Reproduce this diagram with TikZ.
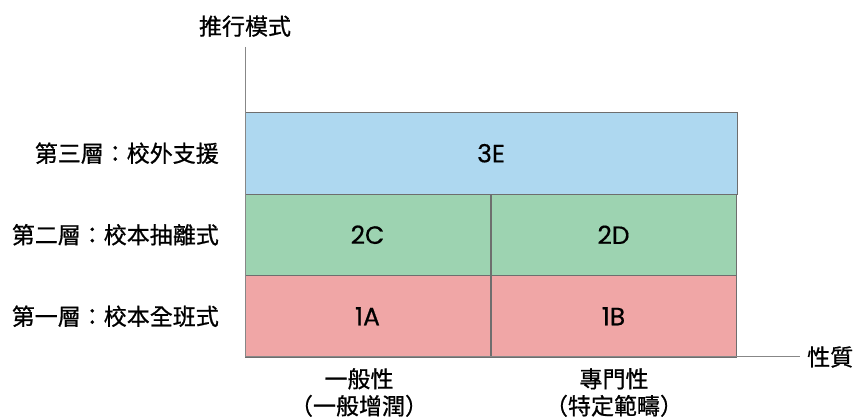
\documentclass[tikz,border=0pt]{standalone}
\usepackage{fontspec}
\setmainfont[FakeBold=0.4]{Poppins}
\newfontfamily\cjk[FakeBold=0.8]{Noto Sans CJK TC}
\usetikzlibrary{positioning}
\definecolor{tierblue}{RGB}{174,216,240}
\definecolor{tiergreen}{RGB}{157,211,177}
\definecolor{tierpink}{RGB}{240,166,166}
\definecolor{edgegray}{RGB}{110,110,110}
\definecolor{axisgray}{RGB}{135,135,135}
\tikzstyle{cell} = [draw=edgegray,line width=0.8pt,minimum height=81.5pt,inner sep=0pt,font=\fontsize{25}{29}\selectfont]
\tikzstyle{half} = [cell,minimum width=245pt]
\tikzstyle{full} = [cell,minimum width=492pt]
\tikzstyle{lbl} = [font=\cjk\fontsize{23}{27}\selectfont,inner sep=0pt]
\tikzstyle{axis} = [draw=axisgray,line width=1pt]

\begin{document}
\begin{tikzpicture}[x=1pt,y=1pt]
\useasboundingbox (0,0) rectangle (854,417);

% Draw tiers, labels and axes

    \def\lx{367.5}
    \def\rx{613.5}
    \node[half,fill=tierpink] at (\lx,100.75) (c1A) {1A};
    \node[half,fill=tierpink] at (\rx,100.75) (c1B) {1B};
    \node[half,fill=tiergreen] at (\lx,182.25) (c2C) {2C};
    \node[half,fill=tiergreen] at (\rx,182.25) (c2D) {2D};
    \node[full,fill=tierblue] at (491,263.75) (c3E) {3E};

    \node[lbl,anchor=east] at (219,100.75) (tier1) {第一層：校本全班式};
    \node[lbl,anchor=east] at (219,182.25) (tier2) {第二層：校本抽離式};
    \node[lbl,anchor=east] at (219,263.75) (tier3) {第三層：校外支援};

    \node[lbl,align=center] at (359,24.5) (gen) {一般性\\（一般增潤）};
    \node[lbl,align=center] at (614,24.5) (spec) {專門性\\（特定範疇）};

    \coordinate (origin) at (245,60);
    \coordinate (ytop) at (245,370);
    \coordinate (xend) at (800,60);
    \draw[axis] (ytop) -- (origin) -- (xend);
    \node[lbl,above=10pt of ytop] (ylabel) {推行模式};
    \node[lbl,right=7pt of xend] (xlabel) {性質};

\end{tikzpicture}
\end{document}
